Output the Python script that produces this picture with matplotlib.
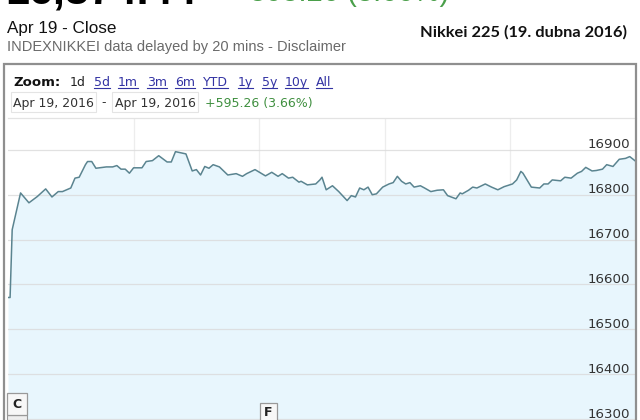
import matplotlib
matplotlib.use("Agg")
import matplotlib.pyplot as plt
from matplotlib.patches import Rectangle
from matplotlib.lines import Line2D
import matplotlib.transforms as mtransforms

# ---- data (minutes after market open, index value) ----
minutes = [0, 1, 2, 6, 10, 14, 18, 21, 24, 26, 30, 32, 34, 37, 38, 40, 42, 47, 50, 52,
           54, 56, 58, 60, 64, 66, 69, 72, 76, 78, 80, 83, 85, 88, 90, 92, 94, 96, 98, 101,
           105, 109, 112, 114, 118, 123, 126, 129, 131, 134, 136, 139, 140, 143, 147, 149, 150, 152, 155, 158,
           162, 164, 166, 168, 170, 172, 174, 176, 179, 182, 184, 186, 188, 190, 192, 194, 197, 199, 202, 205,
           208, 210, 214, 216, 217, 220, 222, 224, 228, 231, 234, 237, 241, 243, 245, 246, 250, 254, 256, 258,
           260, 264, 266, 269, 272, 274, 276, 279, 281, 284, 286, 289, 292, 295, 297, 300]
values = [16571, 16571, 16722, 16804, 16782, 16796, 16813, 16795, 16807, 16807, 16815, 16837, 16839, 16867, 16874, 16874, 16859, 16862, 16862, 16865,
          16857, 16857, 16848, 16860, 16860, 16874, 16876, 16887, 16873, 16873, 16896, 16893, 16891, 16853, 16856, 16844, 16863, 16859, 16867, 16862,
          16844, 16847, 16841, 16847, 16856, 16842, 16850, 16841, 16847, 16837, 16839, 16828, 16830, 16822, 16824, 16833, 16839, 16811, 16820, 16807,
          16787, 16798, 16795, 16815, 16811, 16817, 16800, 16802, 16817, 16824, 16827, 16841, 16830, 16824, 16827, 16817, 16820, 16815, 16807, 16810,
          16811, 16798, 16791, 16804, 16802, 16810, 16817, 16815, 16824, 16817, 16811, 16818, 16824, 16833, 16852, 16848, 16817, 16815, 16824, 16824,
          16833, 16831, 16839, 16837, 16848, 16852, 16861, 16853, 16854, 16857, 16867, 16863, 16879, 16881, 16885, 16874]
y_ticks = [16300, 16400, 16500, 16600, 16700, 16800, 16900]
x_grid = [60, 120, 180, 240]
zoom_links = ["5d", "1m", "3m", "6m", "YTD", "1y", "5y", "10y", "All"]
zoom_link_x = [94, 118, 147, 175, 203, 238, 262, 285, 316]

W, H = 640, 420
fig = plt.figure(figsize=(6.4, 4.2), dpi=100)
fig.patch.set_facecolor("white")

def fx(x):
    return x / W

def fy(y):
    return 1 - y / H

SANS = "Liberation Sans"
VER = "DejaVu Sans"

# ---- header texts (partially clipped top line, as in the reference) ----
fig.text(fx(5), fy(4), "16,874.44", fontsize=31, fontweight="bold", family=SANS,
         color="black", va="baseline", ha="left")
fig.text(fx(233), fy(1), "+595.26 (3.66%)", fontsize=21, family=SANS,
         color="#4a9f4a", va="baseline", ha="left")
fig.text(fx(7), fy(33.5), "Apr 19 - Close", fontsize=12.3, family=SANS,
         color="#111111", va="baseline", ha="left")
fig.text(fx(7), fy(51.5), "INDEXNIKKEI data delayed by 20 mins - Disclaimer", fontsize=10.5,
         family=SANS, color="#6a6a6a", va="baseline", ha="left")
fig.text(fx(627), fy(37), "Nikkei 225 (19. dubna 2016)", fontsize=11.8, family="Lato",
         fontweight="bold", color="#111111", va="baseline", ha="right")

# ---- outer box ----
fig.add_artist(Rectangle((fx(4), fy(425)), fx(632), (425 - 64) / H, transform=fig.transFigure,
                         facecolor="none", edgecolor="#8f8f8f", lw=1.6))

# ---- zoom row ----
fig.text(fx(13), fy(86.5), "Zoom:", fontsize=9.5, fontweight="bold", family=VER,
         color="#111111", va="baseline")
fig.text(fx(70), fy(86), "1d", fontsize=9, family=VER, color="#222222", va="baseline")
link_texts = []
for lab, xx in zip(zoom_links, zoom_link_x):
    t = fig.text(fx(xx), fy(86), lab, fontsize=9, family=VER, color="#3333a3", va="baseline")
    link_texts.append(t)

# ---- date row ----
fig.add_artist(Rectangle((fx(11), fy(112)), fx(85), 20 / H, transform=fig.transFigure,
                         facecolor="none", edgecolor="#e4e4e4", lw=0.8))
fig.add_artist(Rectangle((fx(112), fy(112)), fx(86), 20 / H, transform=fig.transFigure,
                         facecolor="none", edgecolor="#e4e4e4", lw=0.8))
fig.text(fx(13), fy(106.5), "Apr 19, 2016", fontsize=9, family=VER, color="#333333", va="baseline")
fig.text(fx(101), fy(106.5), "-", fontsize=9, family=VER, color="#333333", va="baseline")
fig.text(fx(115), fy(106.5), "Apr 19, 2016", fontsize=9, family=VER, color="#333333", va="baseline")
fig.text(fx(205), fy(106.5), "+595.26 (3.66%)", fontsize=9, family=VER, color="#3f8f3f", va="baseline")

# ---- chart ----
ax_left, ax_right, ax_top, ax_bottom = 8, 636, 118, 420
ax = fig.add_axes([fx(ax_left), fy(ax_bottom), (ax_right - ax_left) / W, (ax_bottom - ax_top) / H])
ymin, ymax = 16298, 16971
ax.set_xlim(0, 300)
ax.set_ylim(ymin, ymax)
ax.set_facecolor("white")
for v in x_grid:
    ax.axvline(v, color="#ededed", lw=0.9, zorder=0.5)
ax.fill_between(minutes, values, ymin, color="#e8f6fd", lw=0, zorder=1)
for v in y_ticks:
    ax.axhline(v, color="#dcdcdc", lw=0.9, alpha=0.85, zorder=1.5)
ax.plot(minutes, values, color="#5a8490", lw=1.1, zorder=3, solid_joinstyle="round")
ax.set_xticks([])
ax.set_yticks([])
for s in ["left", "right", "bottom"]:
    ax.spines[s].set_visible(False)
ax.spines["top"].set_color("#e3e3e3")
ax.spines["top"].set_linewidth(0.9)

lab_trans = mtransforms.blended_transform_factory(ax.transAxes, ax.transData)
off = mtransforms.ScaledTranslation(0, 1.5 / 100, fig.dpi_scale_trans)
for v in y_ticks:
    ax.text(0.9905, v, f"{v}", transform=lab_trans + off, ha="right", va="baseline",
            fontsize=9.6, family=VER, color="#333333", zorder=4)

# ---- event flags ----
fig.add_artist(Rectangle((fx(7), fy(420)), fx(20), 5 / H, transform=fig.transFigure,
                         facecolor="#eeeeee", edgecolor="#999999", lw=0.8))
fig.add_artist(Rectangle((fx(7), fy(415)), fx(20), 22 / H, transform=fig.transFigure,
                         facecolor="#f7f7f7", edgecolor="#999999", lw=0.9))
fig.text(fx(17), fy(404), "C", fontsize=9, fontweight="bold", family=VER, color="#222222",
         ha="center", va="center")
fig.add_artist(Rectangle((fx(260), fy(422)), fx(17), 19 / H, transform=fig.transFigure,
                         facecolor="#f7f7f7", edgecolor="#999999", lw=0.9))
fig.text(fx(268.5), fy(412), "F", fontsize=9, fontweight="bold", family=VER, color="#222222",
         ha="center", va="center")

# ---- underline links ----
fig.canvas.draw()
r = fig.canvas.get_renderer()
for t in link_texts:
    bb = t.get_window_extent(renderer=r)
    yline = fy(87.5)
    fig.add_artist(Line2D([bb.x0 / W, bb.x1 / W], [yline, yline], transform=fig.transFigure,
                          color="#3333a3", lw=0.8))

fig.savefig("out.png", dpi=100)
